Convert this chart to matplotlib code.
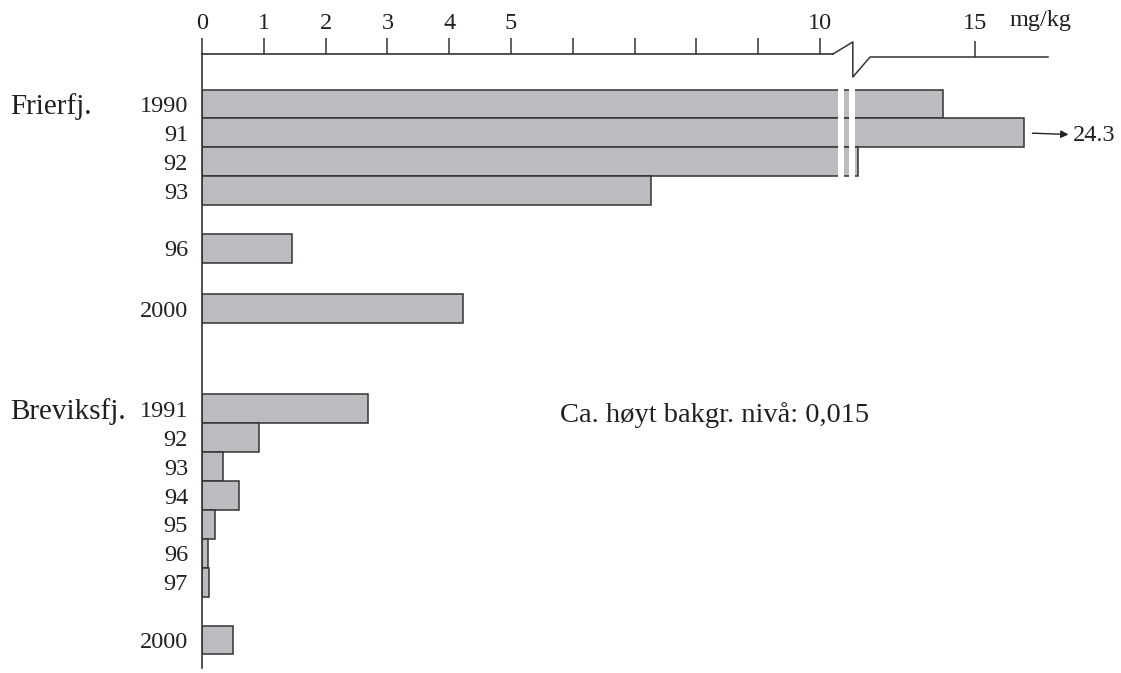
"""Hg i torsk/lever: Frierfjorden og Breviksfjorden, mg/kg, brutt akse."""
import matplotlib
matplotlib.use("Agg")
import matplotlib.pyplot as plt
import matplotlib.transforms as mtrans
import numpy as np

plt.rcParams["font.family"] = ["Liberation Serif", "DejaVu Serif"]

# data (mg/kg)
frier_years = ["1990", "91", "92", "93", "96", "2000"]
frier_vals = [14.49, 24.3, 13.12, 7.27, 1.46, 4.22]
brevik_years = ["1991", "92", "93", "94", "95", "96", "97", "2000"]
brevik_vals = [2.68, 0.92, 0.34, 0.60, 0.21, 0.10, 0.11, 0.50]
group_names = ["Frierfj.", "Breviksfj."]
tick_vals = [0, 1, 2, 3, 4, 5, 6, 7, 8, 9, 10, 15]
tick_labels = ["0", "1", "2", "3", "4", "5", "", "", "", "", "10", "15"]
unit = "mg/kg"
note = "Ca. høyt bakgr. nivå: 0,015"

# layout (row positions, axis cut)
frier_pos = [0, 1, 2, 3, 5, 7.08]
brevik_pos = [10.55, 11.55, 12.55, 13.55, 14.55, 15.55, 16.55, 18.55]
BREAK = 10.25   # where the axis is cut
GAP = 2.5       # mg/kg hidden by the cut
CAP = 15.8      # longer bars are truncated and labelled

FILL = "#bbbcc0"
EDGE = "#333333"
INK = "#231f20"
FS = 17.5


def fwd(v):
    return np.interp(v, [-5, BREAK, BREAK + GAP, 60], [-5, BREAK, BREAK + 1e-3, 60 - GAP])


def inv(u):
    return np.interp(u, [-5, BREAK, BREAK + 1e-3, 60 - GAP], [-5, BREAK, BREAK + GAP, 60])


W, H = 1121, 673
fig = plt.figure(figsize=(W / 100, H / 100), dpi=100)
ax_h = 614
ax = fig.add_axes([202 / W, 5 / H, 858 / W, ax_h / H])
ax.set_xscale("function", functions=(fwd, inv))
ax.set_xlim(0, inv(858 / 61.8))
ax.set_ylim(19.52, -1.73)

ax.barh(frier_pos, np.minimum(frier_vals, CAP), height=1.0, color=FILL,
        edgecolor=EDGE, linewidth=1.1, zorder=2)
ax.barh(brevik_pos, brevik_vals, height=1.0, color=FILL,
        edgecolor=EDGE, linewidth=1.1, zorder=2)

# white cut marks through the long bars
y0, y1 = frier_pos[0] - 0.56, frier_pos[2] + 0.56
for a, b in [(0.04, 0.13), (0.22, 0.32)]:
    ax.fill_betweenx([y0, y1], BREAK + GAP + a, BREAK + GAP + b,
                     color="white", lw=0, zorder=3)

# truncated bar: arrow to real value
ax.annotate(f"{frier_vals[1]}", xy=(CAP, frier_pos[1]), xytext=(35, 0),
            textcoords="offset points", ha="left", va="center_baseline",
            fontsize=FS, color=INK, annotation_clip=False,
            arrowprops=dict(arrowstyle="<|-", color=INK, lw=1.0,
                            shrinkA=1, shrinkB=6, mutation_scale=11))

# top axis with break
px = 1.0 / ax_h
tr = ax.get_xaxis_transform()
ax.plot([0, 10.21], [1, 1], color=EDGE, lw=1.2, transform=tr, clip_on=False)
ax.plot([10.21, 13.03, 13.03, 13.31, inv(846 / 61.8)],
        [1, 1 + 12 * px, 1 - 23 * px, 1 - 3 * px, 1 - 3 * px],
        color=EDGE, lw=1.1, transform=tr, clip_on=False)

ax.set_xticks(tick_vals, tick_labels)
ax.xaxis.set_minor_locator(matplotlib.ticker.NullLocator())
ax.tick_params(axis="x", top=True, bottom=False, labeltop=True, labelbottom=False,
               direction="out", length=11.5, width=1.1, color=EDGE, pad=3,
               labelsize=FS, labelcolor=INK)
# tick beyond the cut sits on the lowered segment
last = ax.xaxis.get_major_ticks()[-1].tick2line
last.set_transform(last.get_transform()
                   + mtrans.ScaledTranslation(0, -3 / 100, fig.dpi_scale_trans))
ax.text(inv((1072 - 202) / 61.8), 1 + 23 * px, unit, transform=tr,
        fontsize=FS, color=INK, ha="right", va="bottom")

for s in ["top", "right", "bottom"]:
    ax.spines[s].set_visible(False)
ax.spines["left"].set_color(EDGE)
ax.spines["left"].set_linewidth(1.2)

ax.set_yticks(frier_pos + brevik_pos, frier_years + brevik_years)
ax.tick_params(axis="y", length=0, pad=10, labelsize=FS, labelcolor=INK)

gtr = mtrans.blended_transform_factory(fig.transFigure, ax.transData)
for name, pos in zip(group_names, [frier_pos[0], brevik_pos[0]]):
    ax.text(10 / W, pos, name, transform=gtr, fontsize=21, color=INK,
            ha="left", va="center_baseline")

ax.text(inv(5.80), 10.66, note, fontsize=20.5, color=INK,
        ha="left", va="center_baseline")

fig.savefig("out.png", dpi=100)
